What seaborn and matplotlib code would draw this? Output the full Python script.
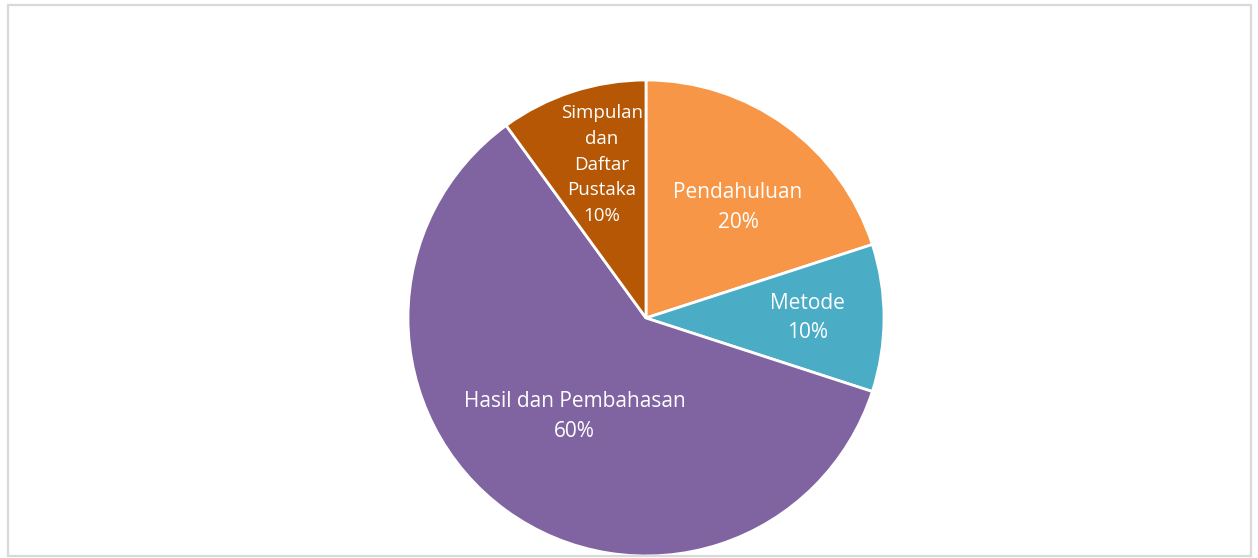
import seaborn as sns
import numpy as np
import matplotlib.pyplot as plt
from matplotlib.patches import Rectangle

labels = ['Pendahuluan', 'Metode', 'Hasil dan Pembahasan', 'Simpulan\ndan\nDaftar\nPustaka']
shares = [20, 10, 60, 10]
colors = ['#F79646', '#4BACC6', '#8064A2', '#B55705']
label_dist = [0.605, 0.68, 0.51, 0.67]
label_turn = [-3.7, 0, 0, -2]
label_size = [15, 15, 15, 13.5]

sns.set_style('white')
plt.rcParams['font.family'] = ['Open Sans', 'DejaVu Sans']

W, H = 1258, 558
fig = plt.figure(figsize=(W / 100, H / 100), dpi=100)
ax = fig.add_axes([0, 0, 1, 1])

cx, cy, R = 646, H - 318, 238
wedges, _ = ax.pie(shares, colors=colors, startangle=90, counterclock=False,
                   center=(cx, cy), radius=R,
                   wedgeprops=dict(edgecolor='white', linewidth=2))
ax.set_xlim(0, W)
ax.set_ylim(0, H)
ax.set_aspect('equal')
ax.axis('off')

total = sum(shares)
for w, lab, v, d, t, fs in zip(wedges, labels, shares, label_dist, label_turn, label_size):
    mid = np.deg2rad((w.theta1 + w.theta2) / 2 + t)
    x = cx + d * R * np.cos(mid)
    y = cy + d * R * np.sin(mid)
    ax.text(x, y, f'{lab}\n{round(v / total * 100)}%', ha='center', va='center',
            color='white', fontsize=fs, linespacing=1.55)

fig.patches.append(Rectangle((8 / W, 2 / H), 1243 / W, 551 / H, transform=fig.transFigure,
                             fill=False, edgecolor='#D9D9D9', linewidth=1.6))

fig.savefig('out.png', dpi=100, facecolor='white')
